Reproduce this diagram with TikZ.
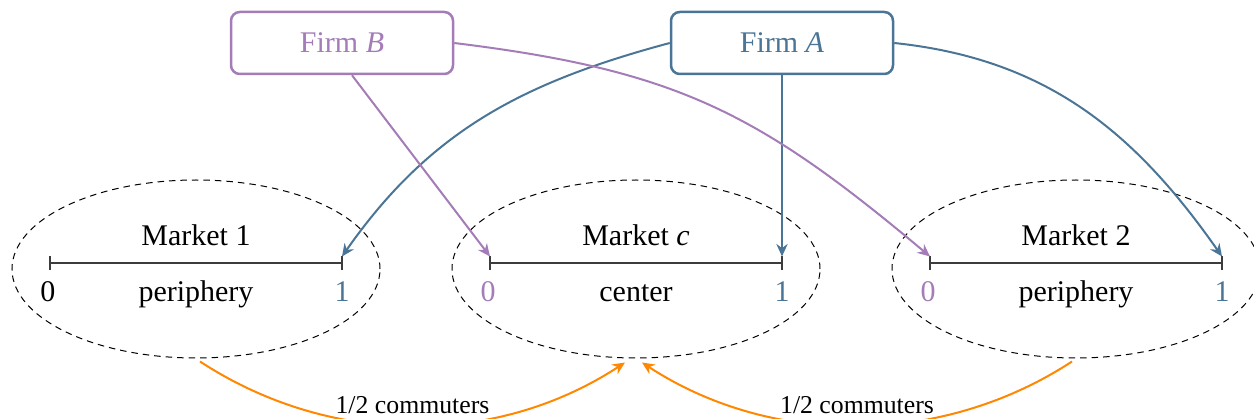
\documentclass[tikz,border=0pt]{standalone}
\usepackage{fontspec}
\setmainfont{Liberation Serif}
\usetikzlibrary{arrows.meta,shapes.geometric,calc}
\definecolor{firmA}{RGB}{74,117,150}
\definecolor{firmB}{RGB}{163,124,184}
\definecolor{commute}{RGB}{255,136,0}
\definecolor{axis}{RGB}{60,60,60}
\tikzset{
  firmbox/.style={draw, rounded corners=3.5pt, line width=1pt, minimum width=88.8pt,
    minimum height=24.8pt, inner sep=0pt, font=\fontsize{12}{14}\selectfont},
  market/.style={draw, dash pattern=on 2.6pt off 2pt, ellipse, line width=0.4pt,
    minimum width=147.2pt, minimum height=71.2pt, inner sep=0pt},
  lbl/.style={anchor=base, inner sep=0pt, font=\fontsize{12}{14}\selectfont},
  seg/.style={draw=axis, line width=0.6pt},
  tip/.style={-{Stealth[length=5pt,width=4.5pt]}},
  link/.style={tip, line width=0.8pt},
  flow/.style={tip, draw=commute, line width=0.8pt},
  flowlbl/.style={anchor=base, inner sep=0pt, yshift=5pt, font=\fontsize{10.3}{12}\selectfont}
}
\begin{document}
\begin{tikzpicture}[x=0.4pt, y=0.4pt]
\useasboundingbox (0,0) rectangle (1254,-419);

% firms
\node[firmbox, draw=firmB, text=firmB] (FB) at (342,-43) {Firm \textit{B}};
\node[firmbox, draw=firmA, text=firmA] (FA) at (782,-43) {Firm \textit{A}};

% three markets: dashed ellipse, unit segment, labels
\foreach \name/\cx/\title/\kind/\zc/\oc in {
    m1/196/{Market 1}/periphery/black/firmA,
    mc/636/{Market \textit{c}}/center/firmB/firmA,
    m2/1076/{Market 2}/periphery/firmB/firmA} {
  \node[market] (\name e) at (\cx,-269) {};
  \coordinate (\name l) at (\cx-146,-263);
  \coordinate (\name r) at (\cx+146,-263);
  \coordinate (\name lt) at (\cx-146,-256.5);
  \coordinate (\name rt) at (\cx+146,-256.5);
  \draw[seg] (\name l) -- (\name r);
  \draw[seg] (\cx-146,-256.5) -- (\cx-146,-270);
  \draw[seg] (\cx+146,-256.5) -- (\cx+146,-270);
  \node[lbl] (\name t) at (\cx,-245) {\title};
  \node[lbl] (\name k) at (\cx,-302) {\kind};
  \node[lbl, text=\zc] (\name 0) at (\cx-148,-302) {0};
  \node[lbl, text=\oc] (\name 1) at (\cx+146,-302) {1};
}

% firm locations
\draw[link, draw=firmA] (FA.west) to[out=195, in=55] (m1rt);
\draw[link, draw=firmA] (FA.south) -- (mcrt);
\draw[link, draw=firmA] (FA.east) to[out=-6, in=125] (m2rt);
\draw[link, draw=firmB] ($(FB.south)+(10,0)$) -- (mclt);
\draw[link, draw=firmB] (FB.east) to[out=-7, in=140, looseness=1.1] (m2lt);

% commuting flows into the center
\draw[flow] ($(m1e.south)+(4,-3)$) .. controls ($(m1e.south)+(134,-88)$) and ($(mce.south)+(-141,-89)$) ..
  node[flowlbl, pos=0.5] (c1) {1/2 commuters} ($(mce.south)+(-11,-4)$);
\draw[flow] ($(m2e.south)+(-4,-3)$) .. controls ($(m2e.south)+(-134,-88)$) and ($(mce.south)+(136,-89)$) ..
  node[flowlbl, pos=0.5] (c2) {1/2 commuters} ($(mce.south)+(6,-4)$);
\end{tikzpicture}
\end{document}
